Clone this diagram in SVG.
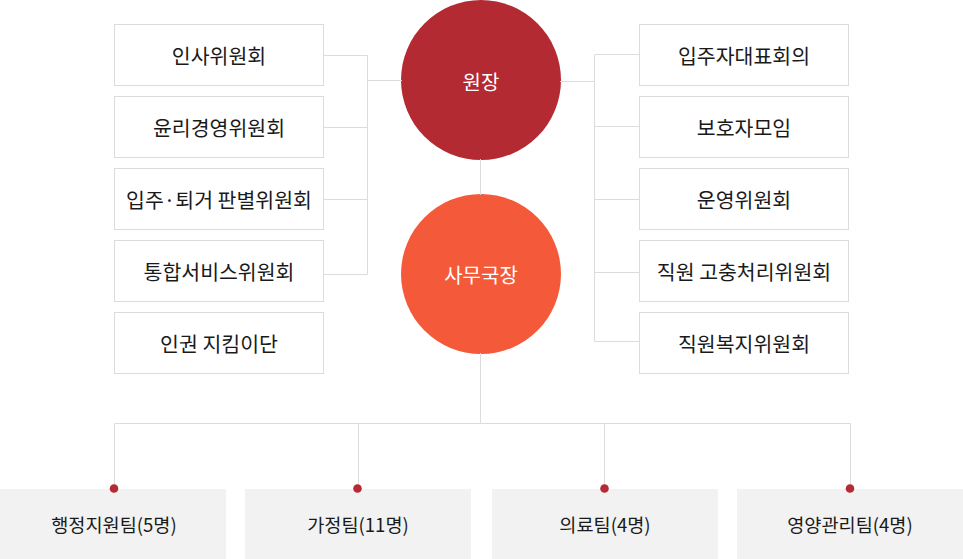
<svg xmlns="http://www.w3.org/2000/svg" width="963" height="559" viewBox="0 0 963 559">
<style>
.box{fill:#fff;stroke:#dcdcdc;stroke-width:1}
.team{fill:#f2f2f2}
.t{font-family:"Noto Sans CJK KR","Noto Sans",sans-serif;font-size:20.5px;fill:#1a1a1a;text-anchor:middle;dominant-baseline:central}
.tt{font-family:"Noto Sans CJK KR","Noto Sans",sans-serif;font-size:18.6px;fill:#1a1a1a;text-anchor:middle;dominant-baseline:central}
.ct{font-family:"Noto Sans CJK KR","Noto Sans",sans-serif;font-size:20px;fill:#fff;text-anchor:middle;dominant-baseline:central}
.ln{fill:none;stroke:#dcdcdc;stroke-width:1}
.dot{fill:#b52a34}
</style>
<g id="n-director"><circle cx="481" cy="80" r="80" fill="#b32a33"/><text class="ct" x="481" y="81">원장</text></g>
<g id="n-secretary"><circle cx="481" cy="274" r="80" fill="#f45a3a"/><text class="ct" x="481" y="274">사무국장</text></g>
<g id="n-l1"><rect class="box" x="114.5" y="24.5" width="209" height="61"/><text class="t" x="219" y="55">인사위원회</text></g>
<g id="n-l2"><rect class="box" x="114.5" y="96.5" width="209" height="61"/><text class="t" x="219" y="127">윤리경영위원회</text></g>
<g id="n-l3"><rect class="box" x="114.5" y="168.5" width="209" height="61"/><text class="t" x="219" y="199">입주·퇴거 판별위원회</text></g>
<g id="n-l4"><rect class="box" x="114.5" y="240.5" width="209" height="61"/><text class="t" x="219" y="271">통합서비스위원회</text></g>
<g id="n-l5"><rect class="box" x="114.5" y="312.5" width="209" height="61"/><text class="t" x="219" y="343">인권 지킴이단</text></g>
<g id="n-r1"><rect class="box" x="639.5" y="24.5" width="209" height="61"/><text class="t" x="744" y="55">입주자대표회의</text></g>
<g id="n-r2"><rect class="box" x="639.5" y="96.5" width="209" height="61"/><text class="t" x="744" y="127">보호자모임</text></g>
<g id="n-r3"><rect class="box" x="639.5" y="168.5" width="209" height="61"/><text class="t" x="744" y="199">운영위원회</text></g>
<g id="n-r4"><rect class="box" x="639.5" y="240.5" width="209" height="61"/><text class="t" x="744" y="271">직원 고충처리위원회</text></g>
<g id="n-r5"><rect class="box" x="639.5" y="312.5" width="209" height="61"/><text class="t" x="744" y="343">직원복지위원회</text></g>
<g id="n-b1"><rect class="team" x="0" y="489" width="226" height="70"/><text class="tt" x="114" y="523">행정지원팀(5명)</text></g>
<g id="n-b2"><rect class="team" x="245" y="489" width="226" height="70"/><text class="tt" x="358" y="523">가정팀(11명)</text></g>
<g id="n-b3"><rect class="team" x="492" y="489" width="226" height="70"/><text class="tt" x="605" y="523">의료팀(4명)</text></g>
<g id="n-b4"><rect class="team" x="737" y="489" width="226" height="70"/><text class="tt" x="850" y="523">영양관리팀(4명)</text></g>
<g id="connectors">
<path class="ln" d="M323.5,55.5H367.5M323.5,127.5H367.5M323.5,199.5H367.5M323.5,274.5H367.5M367.5,55.5V274.5M367.5,80.5H402"/>
<path class="ln" d="M560,81.5H594.5M594.5,54.5V341.5M594.5,54.5H639.5M594.5,126.5H639.5M594.5,199.5H639.5M594.5,272.5H639.5M594.5,341.5H639.5"/>
<path class="ln" d="M480.5,159V195M480.5,353V423.5M114.5,423.5H850.5M114.5,423.5V488M358.5,423.5V488M604.5,423.5V488M850.5,423.5V488"/>
<circle class="dot" cx="114" cy="488.5" r="4.3"/>
<circle class="dot" cx="357.5" cy="488.5" r="4.3"/>
<circle class="dot" cx="604.5" cy="488.5" r="4.3"/>
<circle class="dot" cx="850" cy="488.5" r="4.3"/>
</g>
</svg>
